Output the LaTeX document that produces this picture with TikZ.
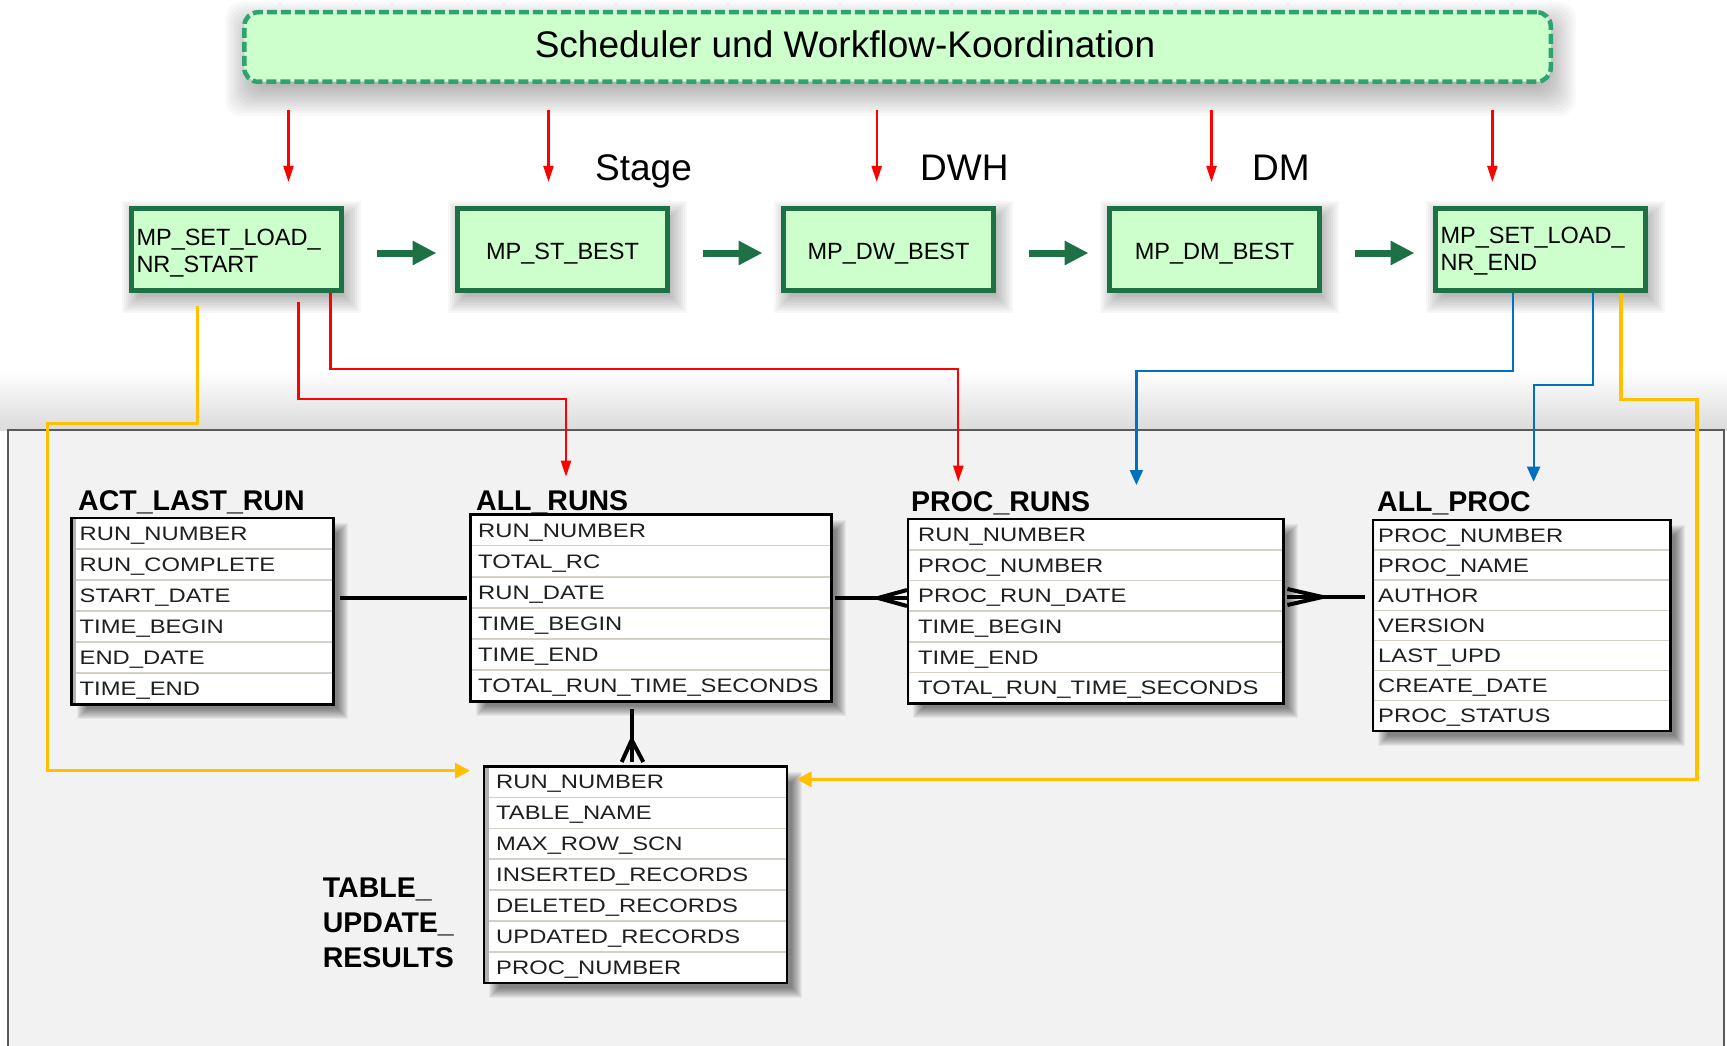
\documentclass[tikz,border=0pt]{standalone}
\usepackage{fontspec}
\setmainfont{Liberation Sans}
\newfontfamily\rowfont[FakeStretch=1.22]{Liberation Sans}
\usetikzlibrary{arrows.meta,calc}
\definecolor{boxfill}{HTML}{CCFFCC}
\definecolor{boxdraw}{HTML}{1E7145}
\definecolor{dashgreen}{HTML}{2EA36F}
\definecolor{redc}{HTML}{FF0000}
\definecolor{bluec}{HTML}{0070C0}
\definecolor{yelc}{HTML}{FFC000}
\definecolor{panelc}{HTML}{F2F2F2}
\definecolor{panelb}{HTML}{5A5A5A}
\definecolor{sepc}{HTML}{D4D0C8}

% #1 name, #2 x, #3 y(top), #4 width, #5 row height, #6 text dx, #7 rows, #8 nrows, #9 strip width
\newcommand\dbtable[9]{%
  \foreach \k in {-5,...,5}
    \fill[black,opacity=0.05] ({#2+10+\k},{#3+10+\k}) rectangle ({#2+#4+10-\k},{#3+#8*#5+10-\k});
  \node[tbl,minimum width=#4,minimum height={#8*#5},anchor=north west] (#1) at (#2,#3) {};
  \pgfmathtruncatemacro\nsep{#8-1}
  \foreach \i in {1,...,\nsep}
    \draw[sepc,line width=1.6pt] ($(#1.north west)+(1,{\i*#5})$) -- ($(#1.north east)+(-1,{\i*#5})$);
  \fill[black!30] ($(#1.north west)+(1.2,0)$) rectangle ($(#1.south west)+({1.2+#9},0)$);
  \draw[black,line width=2.5pt] (#1.north west) rectangle (#1.south east);
  \foreach \rowname [count=\i] in {#7}
    \node[rowtxt,anchor=base west] (#1-r\i) at ($(#1.north west)+(#6,{(\i-0.5)*#5+7})$) {\rowname};
}

\begin{document}
\begin{tikzpicture}[x=1pt,y=-1pt,
  tbl/.style={fill=white,draw=none,inner sep=0pt},
  rowtxt/.style={inner sep=0pt,text=black!88,font=\rowfont\fontsize{19.5}{22}\selectfont},
  ttl/.style={inner sep=0pt,anchor=base west,font=\bfseries\fontsize{28.5}{35}\selectfont},
  mpbox/.style={draw=boxdraw,fill=boxfill,line width=5pt,minimum width=210pt,minimum height=82pt,
    text width=200pt,inner xsep=5pt,inner ysep=0pt,text height=25pt,font=\fontsize{23.5}{27}\selectfont},
  garr/.style={draw=boxdraw,line width=7pt,-{Triangle[length=24pt,width=23pt]}},
  redarr/.style={draw=redc,line width=2.2pt,-{Triangle[length=16pt,width=10pt]}},
  bluearr/.style={draw=bluec,line width=2.2pt,-{Triangle[length=15pt,width=13pt]}},
  yelarr/.style={draw=yelc,line width=3.5pt,-{Triangle[length=15pt,width=15pt]}},
  rel/.style={draw=black,line width=4pt},
  biglbl/.style={inner sep=0pt,font=\fontsize{37}{44}\selectfont}
]
\useasboundingbox (0,0) rectangle (1727,1046);
\clip (0,0) rectangle (1727,1046);
\fill[white] (0,0) rectangle (1727,1046);

% panel with top shadow
\shade[top color=white,bottom color=black!14] (0,370) rectangle (1727,430);
\fill[panelc] (8,430) rectangle (1724,1060);
\draw[panelb,line width=1.5pt] (8,1060) -- (8,430) -- (1724,430) -- (1724,1060);

% banner
\foreach \k in {-20,-17.5,...,20}
  \fill[black,opacity=0.022,rounded corners=16pt] ({242+3+\k},{10+12+\k}) rectangle ({1553+3-\k},{84+12-\k});
\node[draw=dashgreen,fill=boxfill,line width=4.5pt,dash pattern=on 10pt off 4pt,rounded corners=14pt,
  minimum width=1306.5pt,minimum height=69.5pt,inner sep=0pt] (sched) at (897.5,47) {};
\node[biglbl,anchor=base] (schedtxt) at (845,58) {Scheduler und Workflow-Koordination};

% stage labels
\node[biglbl,anchor=base west] (lstage) at (595,180) {Stage};
\node[biglbl,anchor=base west] (ldwh) at (920,180) {DWH};
\node[biglbl,anchor=base west] (ldm) at (1252,180) {DM};

% red trigger arrows
\foreach \x [count=\i] in {288.5,548.5,876.7,1211.5,1492.4} {
  \coordinate (ts\i) at (\x,110);
  \coordinate (te\i) at (\x,182);
  \draw[redarr] (ts\i) -- (te\i);
}

% mapping boxes
\foreach \cx in {236.5,562.5,888.5,1214.5,1540.5}
  \foreach \k in {-12,-10,...,12}
    \fill[black,opacity=0.03] ({\cx-107.5+5+\k},{205+8+\k}) rectangle ({\cx+107.5+5-\k},{292.5+8-\k});
\node[mpbox,align=left] (b1) at (236.5,249) {MP\_SET\_LOAD\_\\NR\_START};
\node[mpbox,align=center] (b2) at (562.5,249) {MP\_ST\_BEST};
\node[mpbox,align=center] (b3) at (888.5,249) {MP\_DW\_BEST};
\node[mpbox,align=center] (b4) at (1214.5,249) {MP\_DM\_BEST};
\node[mpbox,align=left,text height=20pt] (b5) at (1540.5,249) {MP\_SET\_LOAD\_\\NR\_END};

\draw[garr] ($(b1.east)+(32.5,4)$) -- ($(b2.west)+(-18.5,4)$);
\draw[garr] ($(b2.east)+(32.5,4)$) -- ($(b3.west)+(-18.5,4)$);
\draw[garr] ($(b3.east)+(32.5,4)$) -- ($(b4.west)+(-18.5,4)$);
\draw[garr] ($(b4.east)+(32.5,4)$) -- ($(b5.west)+(-18.5,4)$);

% tables
\dbtable{actlast}{71.5}{518}{261.5}{31}{8}{RUN\_NUMBER,RUN\_COMPLETE,START\_DATE,TIME\_BEGIN,END\_DATE,TIME\_END}{6}{3}
\dbtable{allruns}{470.5}{514.5}{360.5}{31.1}{7.5}{RUN\_NUMBER,TOTAL\_RC,RUN\_DATE,TIME\_BEGIN,TIME\_END,TOTAL\_RUN\_TIME\_SECONDS}{6}{0}
\dbtable{procruns}{908}{519}{375}{30.7}{10}{RUN\_NUMBER,PROC\_NUMBER,PROC\_RUN\_DATE,TIME\_BEGIN,TIME\_END,TOTAL\_RUN\_TIME\_SECONDS}{6}{0}
\dbtable{allproc}{1373}{520}{297}{30.1}{5}{PROC\_NUMBER,PROC\_NAME,AUTHOR,VERSION,LAST\_UPD,CREATE\_DATE,PROC\_STATUS}{7}{0}
\dbtable{tur}{484}{766.5}{302.5}{30.9}{12}{RUN\_NUMBER,TABLE\_NAME,MAX\_ROW\_SCN,INSERTED\_RECORDS,DELETED\_RECORDS,UPDATED\_RECORDS,PROC\_NUMBER}{7}{4}

\node[ttl] (actlast-t) at (78,510) {ACT\_LAST\_RUN};
\node[ttl] (allruns-t) at (476,510) {ALL\_RUNS};
\node[ttl] (procruns-t) at (911,511.5) {PROC\_RUNS};
\node[ttl] (allproc-t) at (1377,511.5) {ALL\_PROC};
\node[inner sep=0pt,anchor=north west,align=left,font=\bfseries\fontsize{28.5}{35}\selectfont] (tur-t) at (322.7,877.6) {TABLE\_\\UPDATE\_\\RESULTS};

% relationships
\draw[rel] ($(actlast.north east)+(6.5,80.3)$) -- ($(allruns.north west)+(-4,83.8)$);
\draw[rel] ($(allruns.north east)+(4,83.5)$) -- ($(procruns.north west)+(-1,79)$);
\draw[rel] ($(procruns.north west)+(-30,79)$) -- ($(procruns.north west)+(-1,71)$)
           ($(procruns.north west)+(-30,79)$) -- ($(procruns.north west)+(-1,87)$);
\draw[rel] ($(procruns.north east)+(4,78)$) -- ($(allproc.north west)+(-8,77)$);
\draw[rel] ($(procruns.north east)+(39,78)$) -- ($(procruns.north east)+(4,70)$)
           ($(procruns.north east)+(39,78)$) -- ($(procruns.north east)+(4,86)$);
\draw[rel] ($(allruns.south west)+(161.2,7)$) -- ($(tur.north west)+(147.7,-4.5)$);
\draw[rel] ($(tur.north west)+(147.7,-26.5)$) -- ($(tur.north west)+(137.7,-4.5)$)
           ($(tur.north west)+(147.7,-26.5)$) -- ($(tur.north west)+(159.3,-4.5)$);

% control flow connectors
\coordinate (rA0) at (298.5,301.7);
\coordinate (rA1) at (566,476.7);
\draw[redarr] (rA0) -- ++(0,97.6) -| (rA1);
\coordinate (rB0) at (330.4,293);
\coordinate (rB1) at (958.3,481.7);
\draw[redarr] (rB0) -- ++(0,76.3) -| (rB1);

\coordinate (bC0) at (1512.9,293);
\coordinate (bC1) at (1136.4,485);
\draw[bluearr] (bC0) -- ++(0,77.7) -| (bC1);
\coordinate (bD0) at (1593.2,291);
\coordinate (bD1) at (1533.6,481.7);
\draw[bluearr] (bD0) -- ++(0,94) -| (bD1);

\coordinate (yE0) at (197.6,306);
\coordinate (yE1) at (470,770.7);
\draw[yelarr] (yE0) -- (197.6,423.3) -- (47.7,423.3) -- (47.7,770.7) -- (yE1);
\coordinate (yF0) at (1620.8,293);
\coordinate (yF1) at (796.7,779.3);
\draw[yelarr] (yF0) -- (1620.8,399.3) -- (1697,399.3) -- (1697,779.3) -- (yF1);
\end{tikzpicture}
\end{document}
